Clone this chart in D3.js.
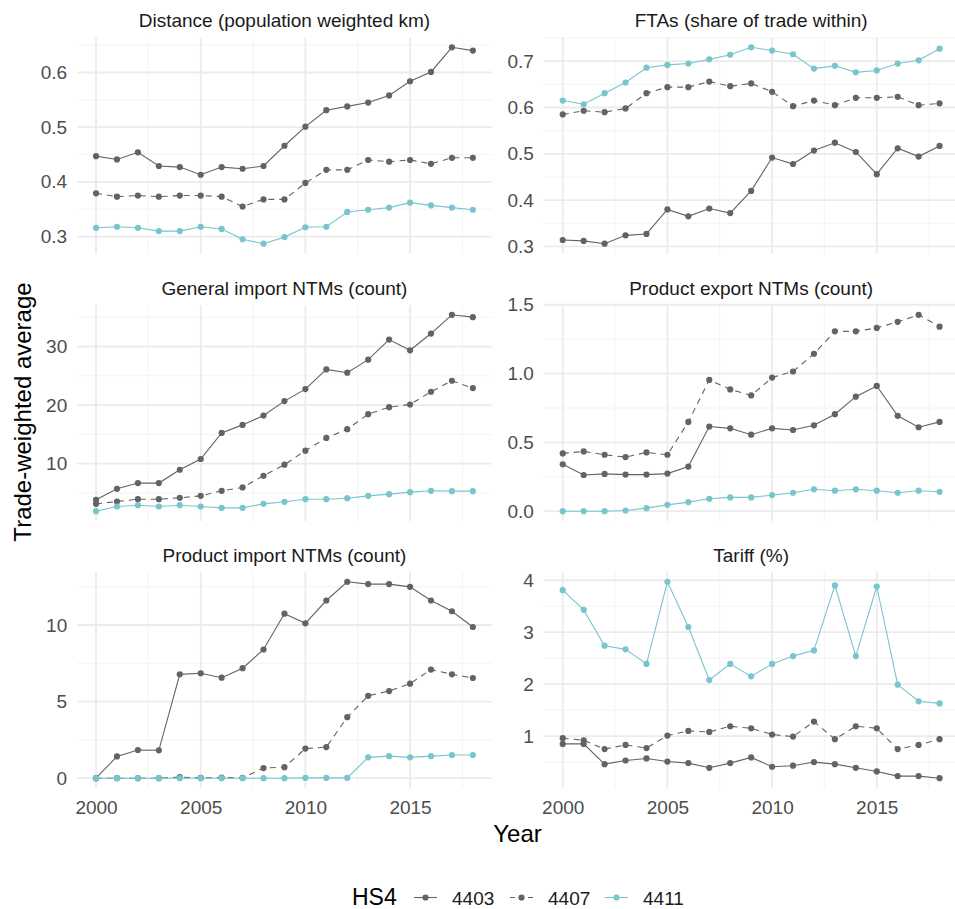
<!DOCTYPE html>
<html>
<head>
<meta charset="utf-8">
<script src="https://cdn.jsdelivr.net/npm/d3@7"></script>
<style>
  html, body { margin: 0; padding: 0; background: #ffffff; }
  svg { display: block; font-family: "Liberation Sans", Arial, sans-serif; }
</style>
</head>
<body>
<svg id="chart" width="955" height="909"></svg>
<script>
// Years on the x axis
const years = d3.range(2000, 2019);

// HS4 product codes
const codes = ["4403", "4407", "4411"];

// Panel titles (facet order: left-to-right, top-to-bottom)
const panelTitles = [
  "Distance (population weighted km)",
  "FTAs (share of trade within)",
  "General import NTMs (count)",
  "Product export NTMs (count)",
  "Product import NTMs (count)",
  "Tariff (%)"
];

// Distance (population weighted km)
const distance4403 = [0.447, 0.441, 0.454, 0.429, 0.427, 0.413, 0.427, 0.424, 0.429, 0.466, 0.501, 0.531, 0.538, 0.545, 0.558, 0.584, 0.601, 0.646, 0.640];
const distance4407 = [0.379, 0.373, 0.375, 0.373, 0.375, 0.375, 0.373, 0.355, 0.368, 0.368, 0.398, 0.422, 0.422, 0.440, 0.437, 0.440, 0.433, 0.444, 0.444];
const distance4411 = [0.316, 0.318, 0.316, 0.310, 0.310, 0.318, 0.314, 0.295, 0.287, 0.299, 0.317, 0.318, 0.345, 0.349, 0.353, 0.362, 0.357, 0.353, 0.349];

// FTAs (share of trade within)
const fta4403 = [0.314, 0.312, 0.306, 0.324, 0.327, 0.380, 0.365, 0.382, 0.372, 0.420, 0.492, 0.478, 0.507, 0.524, 0.504, 0.456, 0.512, 0.494, 0.517];
const fta4407 = [0.585, 0.593, 0.590, 0.598, 0.631, 0.644, 0.644, 0.656, 0.646, 0.652, 0.634, 0.603, 0.615, 0.605, 0.621, 0.621, 0.623, 0.605, 0.609];
const fta4411 = [0.615, 0.607, 0.631, 0.654, 0.686, 0.692, 0.695, 0.704, 0.714, 0.730, 0.723, 0.715, 0.684, 0.690, 0.676, 0.680, 0.695, 0.702, 0.727];

// General import NTMs (count)
const genImp4403 = [3.83, 5.71, 6.69, 6.69, 8.97, 10.8, 15.26, 16.63, 18.23, 20.69, 22.74, 26.11, 25.54, 27.77, 31.2, 29.37, 32.23, 35.43, 35.03];
const genImp4407 = [3.14, 3.54, 3.94, 3.94, 4.17, 4.51, 5.37, 5.94, 7.94, 9.83, 12.23, 14.4, 15.89, 18.46, 19.66, 20.11, 22.29, 24.17, 22.91];
const genImp4411 = [1.89, 2.69, 2.91, 2.69, 2.91, 2.69, 2.46, 2.46, 3.14, 3.49, 3.94, 3.94, 4.11, 4.51, 4.8, 5.14, 5.37, 5.31, 5.31];

// Product export NTMs (count)
const prodExp4403 = [0.341, 0.263, 0.271, 0.266, 0.266, 0.273, 0.324, 0.615, 0.602, 0.556, 0.602, 0.590, 0.624, 0.705, 0.832, 0.910, 0.693, 0.610, 0.649];
const prodExp4407 = [0.420, 0.434, 0.410, 0.393, 0.427, 0.410, 0.649, 0.954, 0.885, 0.841, 0.971, 1.015, 1.144, 1.307, 1.307, 1.332, 1.376, 1.427, 1.341];
const prodExp4411 = [0.0, 0.0, 0.0, 0.005, 0.022, 0.046, 0.066, 0.090, 0.100, 0.100, 0.117, 0.134, 0.159, 0.149, 0.159, 0.149, 0.134, 0.149, 0.141];

// Product import NTMs (count)
const prodImp4403 = [0.0, 1.42, 1.84, 1.82, 6.78, 6.85, 6.56, 7.18, 8.40, 10.74, 10.11, 11.6, 12.82, 12.67, 12.67, 12.49, 11.6, 10.9, 9.87];
const prodImp4407 = [0.0, 0.0, 0.0, 0.0, 0.07, 0.02, 0.04, 0.02, 0.66, 0.72, 1.93, 2.03, 3.98, 5.38, 5.69, 6.17, 7.09, 6.78, 6.54];
const prodImp4411 = [0.0, 0.0, 0.0, 0.0, 0.0, 0.0, 0.0, 0.0, 0.0, 0.0, 0.02, 0.02, 0.02, 1.36, 1.44, 1.36, 1.44, 1.51, 1.51];

// Tariff (%)
const tariff4403 = [0.85, 0.85, 0.46, 0.53, 0.57, 0.51, 0.48, 0.39, 0.48, 0.59, 0.41, 0.43, 0.50, 0.46, 0.39, 0.32, 0.23, 0.23, 0.19];
const tariff4407 = [0.96, 0.92, 0.75, 0.83, 0.77, 1.01, 1.10, 1.08, 1.19, 1.15, 1.03, 0.99, 1.28, 0.94, 1.19, 1.15, 0.75, 0.83, 0.94];
const tariff4411 = [3.81, 3.43, 2.74, 2.67, 2.39, 3.97, 3.10, 2.08, 2.39, 2.15, 2.39, 2.54, 2.65, 3.90, 2.54, 3.88, 1.99, 1.67, 1.63];

// Tick labels
const xTicks = [2000, 2005, 2010, 2015];
const yTicks = [
  [0.3, 0.4, 0.5, 0.6],
  [0.3, 0.4, 0.5, 0.6, 0.7],
  [10, 20, 30],
  [0.0, 0.5, 1.0, 1.5],
  [0, 5, 10],
  [1, 2, 3, 4]
];
const yTickFormats = [".1f", ".1f", "d", ".1f", "d", "d"];

// Series per panel in code order
const panelSeries = [
  [distance4403, distance4407, distance4411],
  [fta4403, fta4407, fta4411],
  [genImp4403, genImp4407, genImp4411],
  [prodExp4403, prodExp4407, prodExp4411],
  [prodImp4403, prodImp4407, prodImp4411],
  [tariff4403, tariff4407, tariff4411]
];

// Styling per code
const colorOf = d3.scaleOrdinal().domain(codes).range(["#636363", "#636363", "#79c5cf"]);
const dashOf = d3.scaleOrdinal().domain(codes).range(["none", "6,5", "none"]);

const svg = d3.select("#chart");

// Layout
const colLeft = [77.2, 543.9];
const panelW = 414.5;
const rowTop = [37.5, 305, 572];
const panelH = 216;
const gridMajor = "#ebebeb";
const gridMinor = "#f3f3f3";
const textDark = "#1a1a1a";
const textGray = "#4d4d4d";
const smallFont = "19px";
const titleFont = "24px";

const expand = (lo, hi) => { const p = (hi - lo) * 0.05; return [lo - p, hi + p]; };

panelSeries.forEach((series, i) => {
  const col = i % 2, row = Math.floor(i / 2);
  const x0 = colLeft[col], y0 = rowTop[row];
  const g = svg.append("g").attr("transform", `translate(${x0},${y0})`);

  const x = d3.scaleLinear().domain(expand(2000, 2018)).range([0, panelW]);
  const all = series.flat();
  const y = d3.scaleLinear().domain(expand(d3.min(all), d3.max(all))).range([panelH, 0]);

  // minor grid
  const majY = yTicks[i];
  const stepY = majY[1] - majY[0];
  const minY = [];
  for (let v = majY[0] - stepY / 2; v <= y.domain()[1]; v += stepY) {
    if (v >= y.domain()[0]) minY.push(v);
  }
  const minX = [1997.5, 2002.5, 2007.5, 2012.5, 2017.5].filter(v => v >= x.domain()[0] && v <= x.domain()[1]);

  g.selectAll("line.minx").data(minX).join("line")
    .attr("x1", d => x(d)).attr("x2", d => x(d)).attr("y1", 0).attr("y2", panelH)
    .attr("stroke", gridMinor).attr("stroke-width", 1);
  g.selectAll("line.miny").data(minY).join("line")
    .attr("x1", 0).attr("x2", panelW).attr("y1", d => y(d)).attr("y2", d => y(d))
    .attr("stroke", gridMinor).attr("stroke-width", 1);
  g.selectAll("line.majx").data(xTicks).join("line")
    .attr("x1", d => x(d)).attr("x2", d => x(d)).attr("y1", 0).attr("y2", panelH)
    .attr("stroke", gridMajor).attr("stroke-width", 1.8);
  g.selectAll("line.majy").data(majY).join("line")
    .attr("x1", 0).attr("x2", panelW).attr("y1", d => y(d)).attr("y2", d => y(d))
    .attr("stroke", gridMajor).attr("stroke-width", 1.8);

  // y axis labels
  const yAxis = d3.axisLeft(y).tickValues(majY).tickFormat(d3.format(yTickFormats[i])).tickSize(0).tickPadding(10);
  const ya = g.append("g").call(yAxis);
  ya.select(".domain").remove();
  ya.selectAll("text").attr("fill", textGray).style("font-size", smallFont).attr("font-family", "Liberation Sans, Arial, sans-serif");

  // x axis labels on the bottom row
  if (row === 2) {
    const xAxis = d3.axisBottom(x).tickValues(xTicks).tickFormat(d3.format("d")).tickSize(0).tickPadding(13);
    const xa = g.append("g").attr("transform", `translate(0,${panelH})`).call(xAxis);
    xa.select(".domain").remove();
    xa.selectAll("text").attr("fill", textGray).style("font-size", smallFont).attr("font-family", "Liberation Sans, Arial, sans-serif");
  }

  // facet title
  g.append("text").attr("x", panelW / 2).attr("y", -10.5)
    .attr("text-anchor", "middle").attr("fill", textDark).style("font-size", smallFont)
    .text(panelTitles[i]);

  // series
  const line = d3.line().x((d, k) => x(years[k])).y(d => y(d));
  series.forEach((vals, s) => {
    const code = codes[s];
    g.append("path").datum(vals)
      .attr("d", line).attr("fill", "none")
      .attr("stroke", colorOf(code)).attr("stroke-width", 1.1)
      .attr("stroke-dasharray", dashOf(code) === "none" ? null : dashOf(code));
    g.selectAll(null).data(vals).join("circle")
      .attr("cx", (d, k) => x(years[k])).attr("cy", d => y(d)).attr("r", 3.1)
      .attr("fill", colorOf(code));
  });
});

// axis titles
svg.append("text").attr("transform", "translate(31,412) rotate(-90)")
  .attr("text-anchor", "middle").attr("fill", "#000").style("font-size", titleFont)
  .text("Trade-weighted average");
svg.append("text").attr("x", 517.5).attr("y", 842)
  .attr("text-anchor", "middle").attr("fill", "#000").style("font-size", titleFont)
  .text("Year");

// legend
const lg = svg.append("g").attr("transform", "translate(0,897.5)");
lg.append("text").attr("x", 352).attr("y", 7.5).attr("fill", "#000").style("font-size", "23px").text("HS4");
const keyX = [414, 510, 605];
codes.forEach((code, s) => {
  const kx = keyX[s];
  lg.append("line").attr("x1", kx).attr("x2", kx + 23).attr("y1", 0).attr("y2", 0)
    .attr("stroke", colorOf(code)).attr("stroke-width", 1.1)
    .attr("stroke-dasharray", dashOf(code) === "none" ? null : "5,4");
  lg.append("circle").attr("cx", kx + 11.5).attr("cy", 0).attr("r", 3.1).attr("fill", colorOf(code));
  lg.append("text").attr("x", kx + 38).attr("y", 7).attr("fill", textDark).style("font-size", smallFont).text(code);
});
</script>
</body>
</html>
